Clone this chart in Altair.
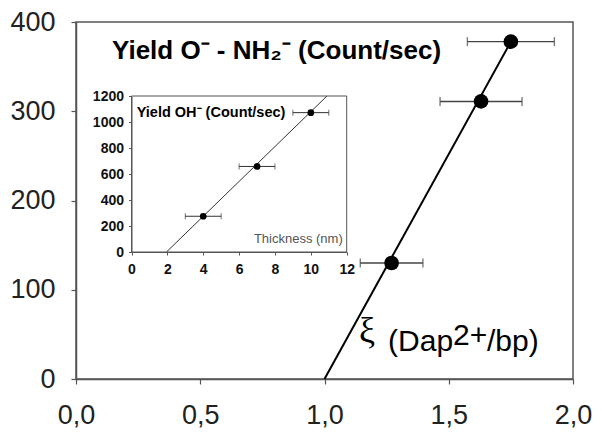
import altair as alt
import pandas as pd

# ---------------- data ----------------
# main plot: Yield O- - NH2- vs xi (Dap2+/bp)
main_x = [1.27, 1.63, 1.75]
main_y = [130, 311, 378]
main_xerr = [0.126, 0.165, 0.175]
fit_x = [1.0, 1.75]
fit_y = [0, 378]
main_xticks = [0, 0.5, 1.0, 1.5, 2.0]
main_yticks = [0, 100, 200, 300, 400]

# inset: Yield OH- vs thickness (nm)
inset_x = [4, 7, 10]
inset_y = [275, 658, 1072]
inset_xerr = [1, 1, 1]
inset_fit_x = [1.95, 10.9]
inset_fit_y = [0, 1200]
inset_xticks = [0, 2, 4, 6, 8, 10, 12]
inset_yticks = [0, 200, 400, 600, 800, 1000, 1200]

# annotations (text, x, y) in data units
main_labels = ["Yield O\u207b - NH\u2082\u207b (Count/sec)"]
main_label_x = [0.145]
main_label_y = [359]
xi_symbol = ["\u03be"]
xi_symbol_x = [1.139]
xi_symbol_y = [41]
xi_parts = ["(Dap", "2+", "/bp)"]
xi_x = [1.256, 1.517, 1.654]
xi_y = [31, 38, 31]
inset_title = ["Yield OH\u207b (Count/sec)"]
inset_title_x = [0.29]
inset_title_y = [1040]
inset_xlabel = ["Thickness (nm)"]
inset_xlabel_x = [11.78]
inset_xlabel_y = [69]

# ---------------- layout ----------------
W, H = 497, 357
FONT = "Liberation Sans"
AX = "#555555"
INSET_XR = [55.5, 270.7]
INSET_YR = [230, 74]

def comma(fmt):
    return f"replace(format(datum.value, '{fmt}'), '.', ',')"

mx = alt.Scale(domain=[0, 2], nice=False, zero=False)
my = alt.Scale(domain=[0, 400], nice=False)
x_axis = alt.Axis(values=main_xticks, labelExpr=comma('.1f'), title=None, grid=False,
                  labelFontSize=27, labelFont=FONT, labelColor="#222222", labelPadding=18,
                  tickSize=5, tickColor=AX, domainColor=AX, domainWidth=1.5, tickWidth=1.2,
                  labelFlush=False, labelOverlap=False)
y_axis = alt.Axis(values=main_yticks, title=None, grid=False, labelFontSize=27, labelFont=FONT,
                  labelColor="#222222", labelPadding=16, tickSize=5, tickColor=AX, domainColor=AX,
                  domainWidth=1.5, tickWidth=1.2, labelFlush=False, labelOverlap=False)

def MX(f):
    return alt.X(f, type="quantitative", scale=mx, axis=x_axis, title=None)

def MY(f):
    return alt.Y(f, type="quantitative", scale=my, axis=y_axis, title=None)

main_df = pd.DataFrame({"x": main_x, "y": main_y,
                        "lo": [a - e for a, e in zip(main_x, main_xerr)],
                        "hi": [a + e for a, e in zip(main_x, main_xerr)]})
fit_df = pd.DataFrame({"x": fit_x, "y": fit_y})

m_bars = alt.Chart(main_df).mark_rule(color="#444444", strokeWidth=1.4).encode(
    x=MX("lo"), x2="hi", y=MY("y"))
m_capl = alt.Chart(main_df).mark_tick(color="#444444", orient="vertical", size=9, thickness=1.4).encode(
    x=MX("lo"), y=MY("y"))
m_caph = alt.Chart(main_df).mark_tick(color="#444444", orient="vertical", size=9, thickness=1.4).encode(
    x=MX("hi"), y=MY("y"))
m_line = alt.Chart(fit_df).mark_line(color="black", strokeWidth=2).encode(x=MX("x"), y=MY("y"))
m_pts = alt.Chart(main_df).mark_circle(size=215, color="black", opacity=1).encode(x=MX("x"), y=MY("y"))

m_title = alt.Chart(pd.DataFrame({"t": main_labels, "x": main_label_x, "y": main_label_y})).mark_text(
    font=FONT, fontSize=26, fontWeight="bold", align="left", baseline="alphabetic", color="black"
).encode(x=MX("x"), y=MY("y"), text="t:N")

m_xisym = alt.Chart(pd.DataFrame({"t": xi_symbol, "x": xi_symbol_x, "y": xi_symbol_y})).mark_text(
    font="Liberation Serif", fontSize=36, align="left", baseline="alphabetic", color="black"
).encode(x=MX("x"), y=MY("y"), text="t:N")

xi_df = pd.DataFrame({"t": xi_parts, "x": xi_x, "y": xi_y})
m_xi = alt.Chart(xi_df).mark_text(font=FONT, fontSize=30, align="left", baseline="alphabetic",
                                  color="black").encode(x=MX("x"), y=MY("y"), text="t:N")

main_layer = alt.layer(m_bars, m_capl, m_caph, m_line, m_pts, m_title, m_xisym, m_xi)

# ---------------- inset ----------------
ix = alt.Scale(domain=[0, 12], range=INSET_XR, nice=False)
iy = alt.Scale(domain=[0, 1200], range=INSET_YR, nice=False)
ix_axis = alt.Axis(values=inset_xticks, orient="bottom", offset=-(H - INSET_YR[0]), title=None, grid=False,
                   labelFontSize=14, labelFontWeight="bold", labelFont=FONT, labelColor="#111111",
                   labelPadding=7, tickSize=3, tickColor=AX, domainColor=AX, domainWidth=1,
                   labelFlush=False, labelOverlap=False, format="d")
iy_axis = alt.Axis(values=inset_yticks, orient="left", offset=-INSET_XR[0], title=None, grid=False,
                   labelFontSize=14, labelFontWeight="bold", labelFont=FONT, labelColor="#111111",
                   labelPadding=5, tickSize=3, tickColor=AX, domainColor=AX, domainWidth=1,
                   labelFlush=False, labelOverlap=False, format="d")

def IX(f):
    return alt.X(f, type="quantitative", scale=ix, axis=ix_axis, title=None)

def IY(f):
    return alt.Y(f, type="quantitative", scale=iy, axis=iy_axis, title=None)

inset_df = pd.DataFrame({"x": inset_x, "y": inset_y,
                         "lo": [a - e for a, e in zip(inset_x, inset_xerr)],
                         "hi": [a + e for a, e in zip(inset_x, inset_xerr)]})
ifit_df = pd.DataFrame({"x": inset_fit_x, "y": inset_fit_y})
frame_df = pd.DataFrame({"x": [inset_xticks[0]], "x2": [inset_xticks[-1]],
                         "y": [inset_yticks[0]], "y2": [inset_yticks[-1]]})

i_frame = alt.Chart(frame_df).mark_rect(fillOpacity=0, stroke=AX, strokeWidth=1).encode(
    x=IX("x"), x2="x2", y=IY("y"), y2="y2")
i_bars = alt.Chart(inset_df).mark_rule(color="#333333", strokeWidth=1).encode(
    x=IX("lo"), x2="hi", y=IY("y"))
i_capl = alt.Chart(inset_df).mark_tick(color="#333333", orient="vertical", size=6, thickness=1).encode(
    x=IX("lo"), y=IY("y"))
i_caph = alt.Chart(inset_df).mark_tick(color="#333333", orient="vertical", size=6, thickness=1).encode(
    x=IX("hi"), y=IY("y"))
i_line = alt.Chart(ifit_df).mark_line(color="#333333", strokeWidth=1).encode(x=IX("x"), y=IY("y"))
i_pts = alt.Chart(inset_df).mark_circle(size=45, color="black", opacity=1).encode(x=IX("x"), y=IY("y"))
i_title = alt.Chart(pd.DataFrame({"t": inset_title, "x": inset_title_x, "y": inset_title_y})).mark_text(
    font=FONT, fontSize=14.5, fontWeight="bold", align="left", baseline="alphabetic", color="black"
).encode(x=IX("x"), y=IY("y"), text="t:N")
i_xlab = alt.Chart(pd.DataFrame({"t": inset_xlabel, "x": inset_xlabel_x, "y": inset_xlabel_y})).mark_text(
    font=FONT, fontSize=13, align="right", baseline="alphabetic", color="#555555"
).encode(x=IX("x"), y=IY("y"), text="t:N")

inset_layer = alt.layer(i_frame, i_bars, i_capl, i_caph, i_line, i_pts, i_title, i_xlab)

chart = alt.layer(main_layer, inset_layer).resolve_scale(
    x="independent", y="independent"
).properties(
    width=W, height=H,
    autosize=alt.AutoSizeParams(type="none"),
    padding={"left": 68, "top": 14, "right": 21, "bottom": 51},
    background="white",
).configure_view(stroke=AX, strokeWidth=1.5)

chart.save("out.html", embed_options={"renderer": "svg", "actions": False})
